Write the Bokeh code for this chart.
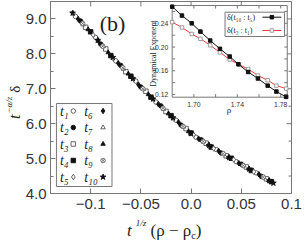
import math
from bokeh.plotting import figure
from bokeh.models import Range1d, FixedTicker, Label, NumeralTickFormatter, Div
from bokeh.layouts import row, column
from bokeh.embed import file_html
from bokeh.resources import INLINE
from bokeh.core.properties import value

# ---------------- data ----------------
fit_x = [-0.120, -0.110, -0.100, -0.090, -0.080, -0.070, -0.060, -0.050, -0.040, -0.030,
         -0.020, -0.010, 0.000, 0.010, 0.020, 0.030, 0.040, 0.050, 0.060, 0.070, 0.080, 0.083]
fit_y = [9.23, 8.925, 8.62, 8.29, 7.96, 7.655, 7.35, 7.06, 6.77, 6.495,
         6.22, 5.97, 5.72, 5.53, 5.34, 5.17, 5.00, 4.835, 4.67, 4.50, 4.33, 4.28]

t1_x = [-0.115, -0.095, -0.075, -0.055, -0.035, -0.015, 0.005, 0.025, 0.045, 0.065]
t1_y = [9.07, 8.47, 7.80, 7.22, 6.62, 6.10, 5.61, 5.26, 4.91, 4.59]
t2_x = [-0.110, -0.090, -0.070, -0.050, -0.030, -0.010, 0.010, 0.030, 0.050, 0.070]
t2_y = [8.94, 8.28, 7.67, 7.05, 6.51, 5.96, 5.54, 5.16, 4.84, 4.49]
t3_x = [-0.105, -0.085, -0.065, -0.045, -0.025, -0.005, 0.015, 0.035, 0.055, 0.075]
t3_y = [8.76, 8.14, 7.49, 6.93, 6.35, 5.86, 5.44, 5.08, 4.76, 4.42]
t4_x = [-0.100, -0.080, -0.060, -0.040, -0.020, 0.000, 0.020, 0.040, 0.060, 0.080]
t4_y = [8.63, 7.95, 7.36, 6.76, 6.23, 5.73, 5.33, 5.01, 4.66, 4.34]
t5_x = [-0.1175, -0.0975, -0.0775, -0.0575, -0.0375, -0.0175, 0.0025, 0.0225, 0.0425, 0.0625]
t5_y = [9.16, 8.54, 7.87, 7.29, 6.70, 6.15, 5.68, 5.29, 4.97, 4.62]
t6_x = [-0.1125, -0.0925, -0.0725, -0.0525, -0.0325, -0.0125, 0.0075, 0.0275, 0.0475, 0.0675]
t6_y = [9.00, 8.38, 7.73, 7.12, 6.56, 6.04, 5.57, 5.22, 4.87, 4.55]
t7_x = [-0.1075, -0.0875, -0.0675, -0.0475, -0.0275, -0.0075, 0.0125, 0.0325, 0.0525, 0.0725]
t7_y = [8.84, 8.21, 7.57, 6.99, 6.42, 5.91, 5.49, 5.13, 4.80, 4.46]
t8_x = [-0.1025, -0.0825, -0.0625, -0.0425, -0.0225, -0.0025, 0.0175, 0.0375, 0.0575, 0.0775]
t8_y = [8.70, 8.04, 7.43, 6.84, 6.29, 5.78, 5.39, 5.04, 4.71, 4.37]
t9_x = [-0.108, -0.088, -0.068, -0.048, -0.028, -0.008, 0.012, 0.032, 0.052, 0.072]
t9_y = [8.87, 8.22, 7.60, 7.00, 6.44, 5.92, 5.49, 5.14, 4.80, 4.47]
t10_x = [-0.118, -0.093, -0.078, -0.058, -0.038, -0.018, 0.000, 0.018, 0.038, 0.058, 0.078, 0.082]
t10_y = [9.17, 8.39, 7.90, 7.29, 6.71, 6.17, 5.72, 5.38, 5.03, 4.70, 4.37, 4.30]

series_labels = ["t₁", "t₂", "t₃", "t₄", "t₅", "t₆", "t₇", "t₈", "t₉", "t₁₀"]
series_x = [t1_x, t2_x, t3_x, t4_x, t5_x, t6_x, t7_x, t8_x, t9_x, t10_x]
series_y = [t1_y, t2_y, t3_y, t4_y, t5_y, t6_y, t7_y, t8_y, t9_y, t10_y]

x_ticks = [-0.1, -0.05, 0.0, 0.05, 0.1]
x_tick_labels = ["−0.1", "−0.05", "0.0", "0.05", "0.1"]
y_ticks = [4, 5, 6, 7, 8, 9]
y_minor = [4.5, 5.5, 6.5, 7.5, 8.5, 9.5]

# inset data
rho = [1.680, 1.689, 1.698, 1.706, 1.715, 1.724, 1.733, 1.741, 1.750, 1.759, 1.768, 1.776, 1.785]
delta_t10_t5 = [0.268, 0.253, 0.240, 0.226, 0.211, 0.197, 0.184, 0.171, 0.158, 0.147, 0.135, 0.125, 0.116]
delta_t3_t1 = [0.242, 0.233, 0.222, 0.214, 0.203, 0.191, 0.179, 0.171, 0.163, 0.152, 0.144, 0.135, 0.130]
inset_x_ticks = [1.70, 1.74, 1.78]
inset_x_labels = ["1.70", "1.74", "1.78"]
inset_x_minor = [1.70, 1.72, 1.74, 1.76, 1.78]
inset_y_ticks = [0.12, 0.16, 0.20, 0.24]
inset_y_labels = ["0.12", "0.16", "0.20", "0.24"]
inset_y_minor = [0.12, 0.14, 0.16, 0.18, 0.20, 0.22, 0.24, 0.26]

# ---------------- geometry (page pixels) ----------------
TOTAL_W, TOTAL_H = 306, 240
YT_W = 22                 # width of the rotated y-title strip
FIG_H = 217               # figure height; x-title strip below it
FL, FR, FT, FB = 48, 291, 1, 193
X0, X1, Y0, Y1 = -0.14, 0.10, 4.0, 9.5


def mx(cx):
    return X0 + (cx - FL) / (FR - FL) * (X1 - X0)


def my(cy):
    return Y0 + (FB - cy) / (FB - FT) * (Y1 - Y0)


DX = (X1 - X0) / (FR - FL)
DY = (Y1 - Y0) / (FB - FT)

IL, IR, IT, IB = 170.7, 286.7, 5.0, 96.7
IX0, IX1, IY0, IY1 = 1.68, 1.786, 0.1155, 0.270
KX = (IX1 - IX0) / (IR - IL)
KY = (IY1 - IY0) / (IB - IT)

GRAY = "#777777"
TXT = "#333333"
INK = "#222222"
serif = "Liberation Serif"

p = figure(width=TOTAL_W - YT_W, height=FIG_H, x_range=Range1d(X0, X1), y_range=Range1d(Y0, Y1),
           output_backend="svg", toolbar_location=None,
           min_border_left=FL - YT_W, min_border_right=TOTAL_W - FR, min_border_top=FT,
           min_border_bottom=FIG_H - FB, margin=0)
p.extra_x_ranges = {"ix": Range1d(IX0 - (IL - FL) * KX, IX1 + (FR - IR) * KX)}
p.extra_y_ranges = {"iy": Range1d(IY0 - (FB - IB) * KY, IY1 + (IT - FT) * KY)}
p.grid.visible = False
p.outline_line_color = GRAY
p.background_fill_color = "white"
p.border_fill_color = "white"

for ax in (p.xaxis, p.yaxis):
    ax.axis_line_color = GRAY
    ax.major_tick_line_color = GRAY
    ax.minor_tick_line_color = GRAY
    ax.major_tick_in = 5
    ax.major_tick_out = 0
    ax.minor_tick_in = 3
    ax.minor_tick_out = 0
    ax.major_label_text_font = "Liberation Sans"
    ax.major_label_text_font_size = "15px"
    ax.major_label_text_color = TXT

p.xaxis.ticker = FixedTicker(ticks=x_ticks, minor_ticks=[])
p.xaxis.major_label_overrides = {t: s for t, s in zip(x_ticks, x_tick_labels)}
p.xaxis.major_label_standoff = 5
p.yaxis.ticker = FixedTicker(ticks=y_ticks, minor_ticks=y_minor)
p.yaxis.formatter = NumeralTickFormatter(format="0.0")
p.yaxis.major_label_standoff = 4

# mirrored inward ticks on top and right
p.segment(x0=x_ticks[:-1], y0=[Y1] * 4, x1=x_ticks[:-1], y1=[Y1 - 5 * DY] * 4, line_color=GRAY)
p.segment(x0=[X1] * 5, y0=y_ticks[1:], x1=[X1 - 5 * DX] * 5, y1=y_ticks[1:], line_color=GRAY)
p.segment(x0=[X1] * 5, y0=y_minor[:-1], x1=[X1 - 3 * DX] * 5, y1=y_minor[:-1], line_color=GRAY)

# fit line and data
p.line(fit_x, fit_y, line_color="#e41a1a", line_width=1)

styles = [
    ("circle", "white", "#555555"), ("circle", "#111111", "#111111"),
    ("square", "white", "#555555"), ("square", "#111111", "#111111"),
    ("diamond", "white", "#555555"), ("diamond", "#111111", "#111111"),
    ("triangle", "white", "#555555"), ("triangle", "#111111", "#111111"),
    ("circle_x", "white", "#666666"), ("star", "#111111", "#111111"),
]
sizes = [4.5, 4.5, 4.5, 4.5, 5.5, 5.5, 4.5, 4.5, 4.5, 6]
for xs, ys, (mk, fc, lc), sz in zip(series_x, series_y, styles, sizes):
    p.scatter(xs, ys, marker=mk, size=sz, fill_color=fc, line_color=lc, line_width=0.9)

# main legend
p.quad(left=[mx(54)], right=[mx(110)], bottom=[my(186)], top=[my(103)],
       fill_color="white", line_color=GRAY, line_width=1)
row_y = [110.5, 127.0, 143.5, 160.0, 176.5]
for i, lab in enumerate(series_labels):
    col, r = divmod(i, 5)
    tx = 57.5 if col == 0 else 82.0
    px = 71.0 if col == 0 else 101.0
    p.add_layout(Label(x=mx(tx), y=my(row_y[r]), text=lab, text_font=serif,
                       text_font_style="italic", text_font_size="14px", text_color=INK,
                       text_align="left", text_baseline="middle"))
    mk, fc, lc = styles[i]
    p.scatter([mx(px)], [my(row_y[r])], marker=mk, size=sizes[i], fill_color=fc,
              line_color=lc, line_width=0.9)

# panel label
p.add_layout(Label(x=mx(110.5), y=my(22.5), text="(b)", text_font=serif,
                   text_font_size="22px", text_color=INK, text_align="center",
                   text_baseline="middle"))

# ---------------- inset ----------------
R = dict(x_range_name="ix", y_range_name="iy")
p.quad(left=[IX0], right=[IX1], bottom=[IY0], top=[IY1], fill_color="white",
       line_color=GRAY, line_width=1, **R)
n = len(inset_x_minor)
p.segment(x0=inset_x_minor, y0=[IY0] * n, x1=inset_x_minor, y1=[IY0 + 3 * KY] * n, line_color=GRAY, **R)
p.segment(x0=inset_x_minor, y0=[IY1] * n, x1=inset_x_minor, y1=[IY1 - 3 * KY] * n, line_color=GRAY, **R)
m = len(inset_y_minor)
p.segment(x0=[IX0] * m, y0=inset_y_minor, x1=[IX0 + 3 * KX] * m, y1=inset_y_minor, line_color=GRAY, **R)
p.segment(x0=[IX1] * m, y0=inset_y_minor, x1=[IX1 - 3 * KX] * m, y1=inset_y_minor, line_color=GRAY, **R)

p.line(rho, delta_t3_t1, line_color="#ff3b3b", line_width=1, **R)
p.scatter(rho, delta_t3_t1, marker="square", size=3.5, fill_color="white",
          line_color="#888888", line_width=0.8, **R)
p.line(rho, delta_t10_t5, line_color="#111111", line_width=1, **R)
p.scatter(rho, delta_t10_t5, marker="square", size=3.5, fill_color="#111111",
          line_color="#111111", **R)

p.text(x=inset_x_ticks, y=[IY0 - 6.8 * KY] * 3, text=inset_x_labels,
       text_font=value("Liberation Sans"), text_font_size="6.8px", text_color=TXT,
       text_align="center", text_baseline="middle", **R)
p.text(x=[IX0 - 4 * KX] * 4, y=inset_y_ticks, text=inset_y_labels,
       text_font=value("Liberation Sans"), text_font_size="6.8px", text_color=TXT,
       text_align="right", text_baseline="middle", **R)

p.add_layout(Label(x=mx(228), y=my(109), text="ρ", text_font=serif,
                   text_font_size="9px", text_color=INK, text_align="center",
                   text_baseline="middle"))
p.add_layout(Label(x=mx(151.5), y=my(53), text="Dynamical Exponent", angle=math.pi / 2,
                   text_font=serif, text_font_size="7.8px", text_color=INK,
                   text_align="center", text_baseline="middle"))

# inset legend
p.quad(left=[mx(224)], right=[mx(284)], bottom=[my(36)], top=[my(11.7)],
       fill_color="white", line_color=GRAY, line_width=1)
p.add_layout(Label(x=mx(226), y=my(16.7), text="δ(t₁₀ : t₅)", text_font=serif,
                   text_font_size="8px", text_color=INK, text_align="left",
                   text_baseline="middle"))
p.add_layout(Label(x=mx(226), y=my(30.0), text="δ(t₃ : t₁)", text_font=serif,
                   text_font_size="8px", text_color=INK, text_align="left",
                   text_baseline="middle"))
p.line([mx(261.7), mx(280.7)], [my(16.7), my(16.7)], line_color="#111111", line_width=1)
p.scatter([mx(271.2)], [my(16.7)], marker="square", size=3.5, fill_color="#111111",
          line_color="#111111")
p.line([mx(261.7), mx(280.7)], [my(30.0), my(30.0)], line_color="#ff3b3b", line_width=1)
p.scatter([mx(271.2)], [my(30.0)], marker="square", size=3.5, fill_color="white",
          line_color="#888888", line_width=0.8)

# ---------------- axis titles (real text, outside the plot frame) ----------------
font_css = "font-family:'Liberation Serif',serif;color:%s;white-space:nowrap;" % INK
y_title_html = (
    '<div style="position:relative;width:%dpx;height:%dpx;overflow:hidden;">'
    '<div style="position:absolute;left:8.6px;top:119px;transform:rotate(-90deg);'
    'transform-origin:0 0;font-size:16px;line-height:12px;%s">'
    '<i>t</i><span style="font-size:9px;line-height:9px;font-style:italic;position:relative;'
    'top:-8px;margin-left:1px;">−α/z</span> <span style="font-size:15px;">δ</span></div></div>'
) % (YT_W, FIG_H, font_css)
x_title_html = (
    '<div style="position:relative;width:%dpx;height:%dpx;overflow:hidden;">'
    '<div style="position:absolute;left:127px;top:7.2px;font-size:17px;line-height:14px;%s">'
    '<i>t</i><span style="font-size:9px;line-height:9px;font-style:italic;position:relative;'
    'top:-10px;margin-left:4px;">1/z</span> (ρ − ρ<span style="font-size:10px;line-height:10px;'
    'position:relative;top:3px;">c</span>)</div></div>'
) % (TOTAL_W, TOTAL_H - FIG_H, font_css)

y_title = Div(text=y_title_html, width=YT_W, height=FIG_H, margin=0)
x_title = Div(text=x_title_html, width=TOTAL_W, height=TOTAL_H - FIG_H, margin=0)

layout = column(row(y_title, p, spacing=0, margin=0), x_title, spacing=0, margin=0)

open("out.html", "w").write(file_html(layout, INLINE))
